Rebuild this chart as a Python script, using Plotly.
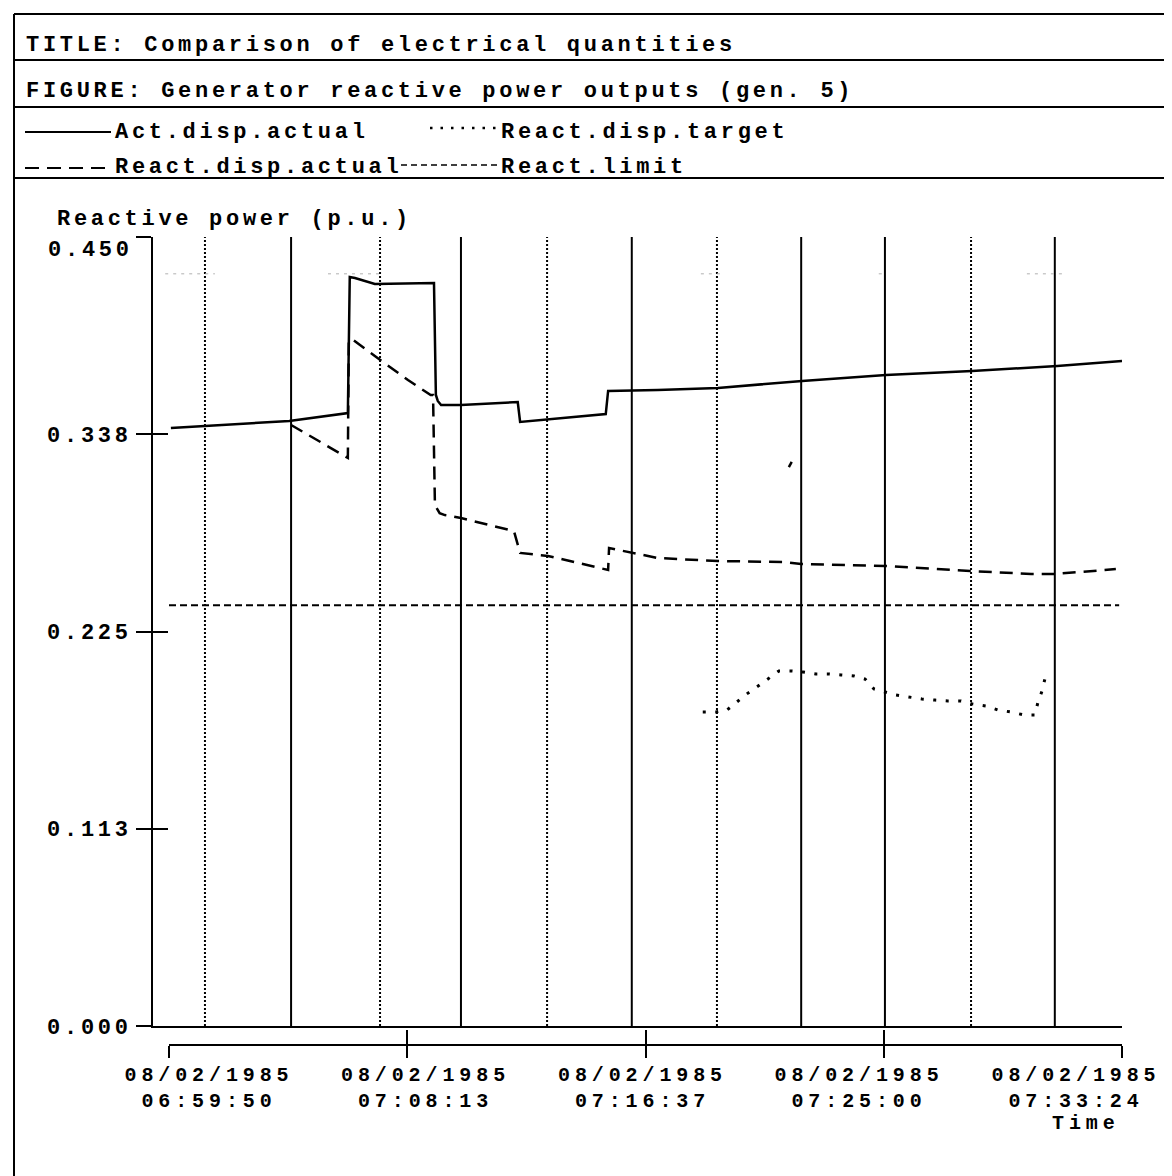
import plotly.graph_objects as go
from datetime import datetime, timedelta

W, H = 1172, 1176
D = "1985-08-02 "

# ---------------- data ----------------
act_time = ["06:59:54", "07:04:04", "07:06:08", "07:06:12", "07:06:23", "07:07:05", "07:09:10",
            "07:09:14", "07:09:18", "07:09:25", "07:10:07", "07:12:07", "07:12:12", "07:15:13",
            "07:15:18", "07:17:03", "07:19:10", "07:22:08", "07:25:05", "07:28:07", "07:31:07",
            "07:33:24"]
act_val = [0.3411, 0.3451, 0.3496, 0.4272, 0.4266, 0.4232, 0.4238,
           0.3599, 0.3565, 0.3542, 0.3542, 0.3559, 0.3445, 0.3490,
           0.3622, 0.3627, 0.3639, 0.3679, 0.3713, 0.3736, 0.3764,
           0.3793]

ract_time = ["07:04:08", "07:06:06", "07:06:08", "07:06:10", "07:06:19", "07:07:05", "07:08:15",
             "07:09:03", "07:09:08", "07:09:12", "07:09:22", "07:09:33", "07:10:07", "07:11:59",
             "07:12:12", "07:13:11", "07:15:18", "07:15:20", "07:17:03", "07:19:10", "07:21:32",
             "07:22:06", "07:25:03", "07:28:03", "07:30:12", "07:31:02", "07:32:12", "07:33:11",
             None, "07:21:40", "07:21:46"]
ract_val = [0.3428, 0.3240, 0.3240, 0.3913, 0.3913, 0.3821, 0.3684,
            0.3599, 0.3599, 0.2971, 0.2925, 0.2914, 0.2897, 0.2823,
            0.2698, 0.2681, 0.2601, 0.2726, 0.2669, 0.2652, 0.2646,
            0.2635, 0.2624, 0.2595, 0.2578, 0.2578, 0.2595, 0.2606,
            None, 0.3188, 0.3217]

tgt_time = ["07:18:38", "07:19:06", "07:19:29", "07:19:50", "07:20:11", "07:20:35", "07:20:56",
            "07:21:19", "07:21:44", "07:22:10", "07:22:37", "07:23:05", "07:23:30", "07:23:58",
            "07:24:21", "07:24:40", "07:25:26", "07:25:56", "07:26:21", "07:26:49", "07:27:16",
            "07:27:44", "07:28:09", "07:28:37", "07:29:02", "07:29:29", "07:29:57", "07:30:20",
            "07:30:26", "07:30:35", "07:30:41"]
tgt_val = [0.1791, 0.1791, 0.1802, 0.1848, 0.1894, 0.1939, 0.1979,
           0.2025, 0.2025, 0.2019, 0.2008, 0.2008, 0.2002, 0.1996,
           0.1979, 0.1922, 0.1888, 0.1876, 0.1865, 0.1859, 0.1854,
           0.1854, 0.1836, 0.1825, 0.1802, 0.1791, 0.1774, 0.1774,
           0.1842, 0.1911, 0.1979]

limit_time = ["06:59:50", "07:33:18"]
limit_val = [0.240, 0.240]

# faint, barely printed upper limit fragments
upper_time = ["06:59:42", "07:01:27", None, "07:05:26", "07:07:15", None, "07:18:34", "07:19:19",
              None, "07:24:50", "07:25:03", None, "07:30:03", "07:31:24"]
upper_val = [0.429, 0.429, None, 0.429, 0.429, None, 0.429, 0.429,
             None, 0.429, 0.429, None, 0.429, 0.429]

grid_times = ["07:01:06", "07:04:08", "07:07:16", "07:10:07", "07:13:09", "07:16:08",
              "07:19:08", "07:22:06", "07:25:03", "07:28:05", "07:31:02"]
grid_solid = [False, True, False, True, False, True, False, True, True, False, True]

y_ticks = [0.0, 0.1125, 0.225, 0.3375, 0.45]
y_ticklabels = ["0.000", "0.113", "0.225", "0.338", "0.450"]
x_ticks = ["06:59:50", "07:08:13", "07:16:37", "07:25:00", "07:33:24"]
x_date_label = "08/02/1985"

title_text = "TITLE: Comparison of electrical quantities"
figure_text = "FIGURE: Generator reactive power outputs (gen. 5)"
legend_names = ["Act.disp.actual", "React.disp.target", "React.disp.actual", "React.limit"]
y_title = "Reactive power (p.u.)"
x_title = "Time"

# ---------------- helpers ----------------
FONT = "Liberation Mono, Courier New, monospace"
FS = 22
LS = "3.7px"
FS_X = 20
LS_X = "4.9px"


def sp(s, ls=LS):
    return f"<span style='letter-spacing:{ls}'>{s}</span>"


def t(s):
    return None if s is None else D + s


def X(px):
    return px / W


def Y(py):
    return 1 - py / H


fig = go.Figure()

# grid lines (event markers)
gs_x, gs_y, gd_x, gd_y = [], [], [], []
for tm, solid in zip(grid_times, grid_solid):
    if solid:
        gs_x += [t(tm), t(tm), None]
        gs_y += [0, 0.45, None]
    else:
        gd_x += [t(tm), t(tm), None]
        gd_y += [0, 0.45, None]
fig.add_trace(go.Scatter(x=gs_x, y=gs_y, mode="lines", line=dict(color="black", width=2),
                         hoverinfo="skip", showlegend=False))
fig.add_trace(go.Scatter(x=gd_x, y=gd_y, mode="lines",
                         line=dict(color="black", width=2, dash="2px,2px"),
                         hoverinfo="skip", showlegend=False))

fig.add_trace(go.Scatter(x=[t(v) for v in upper_time], y=upper_val, mode="lines",
                         line=dict(color="#b0b0b0", width=1, dash="3px,5px"),
                         hoverinfo="skip", showlegend=False))
fig.add_trace(go.Scatter(x=[t(v) for v in limit_time], y=limit_val, mode="lines",
                         name=legend_names[3],
                         line=dict(color="black", width=2, dash="7px,4px"), showlegend=False))
fig.add_trace(go.Scatter(x=[t(v) for v in tgt_time], y=tgt_val, mode="lines",
                         name=legend_names[1],
                         line=dict(color="black", width=3, dash="3px,9.5px"), showlegend=False))
fig.add_trace(go.Scatter(x=[t(v) for v in ract_time], y=ract_val, mode="lines",
                         name=legend_names[2], connectgaps=False,
                         line=dict(color="black", width=2.5, dash="13px,8px"), showlegend=False))
fig.add_trace(go.Scatter(x=[t(v) for v in act_time], y=act_val, mode="lines",
                         name=legend_names[0],
                         line=dict(color="black", width=2.5), showlegend=False))

# helper traces that bind auxiliary axes
for ax in ["x2", "x3", "x4"]:
    fig.add_trace(go.Scatter(x=[t(x_ticks[0])], y=[None], xaxis=ax, yaxis="y",
                             mode="lines", hoverinfo="skip", showlegend=False))
for ay in ["y2", "y3"]:
    fig.add_trace(go.Scatter(x=[t(x_ticks[0])], y=[None], xaxis="x", yaxis=ay,
                             mode="lines", hoverinfo="skip", showlegend=False))

x_left_px, x_right_px = 145, 1114
tick0_px = 161
t0 = datetime.fromisoformat(D + x_ticks[0])
t1 = datetime.fromisoformat(D + x_ticks[-1])
pps = (x_right_px - tick0_px) / (t1 - t0).total_seconds()
range_start = t0 - timedelta(seconds=(tick0_px - x_left_px) / pps)

y_top_px, y_bot_px = 229, 1018
time_axis_px = 1037
common = dict(showgrid=False, zeroline=False, automargin=False)
tickfont = dict(family=FONT, size=FS, color="black", weight="bold")
tickfont_x = dict(family=FONT, size=FS_X, color="black", weight="bold")

# main y labels (all but the top one, which sits just below its tick)
main_ytext = [sp(s) for s in y_ticklabels[:-1]] + [""]

fig.update_layout(
    template="none",
    width=W, height=H, autosize=False,
    margin=dict(l=0, r=0, t=0, b=0, pad=0),
    paper_bgcolor="white", plot_bgcolor="rgba(0,0,0,0)",
    font=dict(family=FONT, size=FS, color="black", weight="bold"),
    xaxis=dict(domain=[X(x_left_px), X(x_right_px)], type="date",
               range=[range_start.isoformat(sep=" "), t1.isoformat(sep=" ")],
               showline=True, linecolor="black", linewidth=2, ticks="", showticklabels=False,
               anchor="y", **common),
    yaxis=dict(domain=[Y(y_bot_px), Y(y_top_px)], range=[0, 0.45],
               showline=True, linecolor="black", linewidth=2,
               ticks="outside", ticklen=15, tickwidth=2, tickcolor="black",
               tickvals=y_ticks, ticktext=main_ytext,
               tickfont=tickfont, anchor="x", **common),
    yaxis2=dict(overlaying="y", range=[0, 0.45], anchor="x", side="left",
                ticks="inside", ticklen=15, tickwidth=2, tickcolor="black",
                tickvals=y_ticks, showticklabels=False, showline=False, **common),
    yaxis3=dict(overlaying="y", range=[0, 0.45], anchor="x", side="left",
                ticks="outside", ticklen=15, tickwidth=2, tickcolor="rgba(0,0,0,0)",
                tickvals=[y_ticks[-1]], ticktext=[sp(y_ticklabels[-1])],
                ticklabelshift=11,
                tickfont=tickfont, showline=False, **common),
    xaxis2=dict(domain=[X(tick0_px), X(x_right_px)], type="date",
                range=[t0.isoformat(sep=" "), t1.isoformat(sep=" ")],
                anchor="free", position=Y(time_axis_px),
                showline=True, linecolor="black", linewidth=2,
                ticks="outside", ticklen=12, tickwidth=2, tickcolor="black",
                tickvals=[t(v) for v in x_ticks], showticklabels=False, **common),
    xaxis3=dict(domain=[X(tick0_px), X(x_right_px)], type="date", overlaying="x2",
                range=[t0.isoformat(sep=" "), t1.isoformat(sep=" ")],
                anchor="free", position=Y(time_axis_px),
                ticks="inside", ticklen=15, tickwidth=2, tickcolor="black",
                tickvals=[t(v) for v in x_ticks], showticklabels=False, showline=False, **common),
    xaxis4=dict(domain=[X(201), X(1068)], type="date",
                range=[t0.isoformat(sep=" "), t1.isoformat(sep=" ")],
                anchor="free", position=Y(1052), ticks="", showline=False,
                tickvals=[t(v) for v in x_ticks],
                ticktext=[sp(x_date_label, LS_X) + "<br>" + sp(v, LS_X) for v in x_ticks],
                tickfont=tickfont_x, **common),
)

# ---------- frame and header ----------
shapes = []
line = dict(color="black", width=2)
shapes.append(dict(type="line", xref="paper", yref="paper", x0=X(6), x1=X(1170), y0=Y(6), y1=Y(6), line=line))
for yy in [52, 99, 170]:
    shapes.append(dict(type="line", xref="paper", yref="paper", x0=X(6), x1=X(1170), y0=Y(yy), y1=Y(yy), line=line))
shapes.append(dict(type="line", xref="paper", yref="paper", x0=X(6), x1=X(6), y0=Y(6), y1=Y(1176), line=line))
shapes.append(dict(type="line", xref="paper", yref="paper", x0=X(1170), x1=X(1170), y0=Y(6), y1=Y(1176), line=line))

# legend samples
leg = [
    (17, 103, 124, dict(color="black", width=2)),
    (422, 490, 120, dict(color="black", width=2.5, dash="2.5px,8px")),
    (17, 103, 160, dict(color="black", width=2, dash="14px,8px")),
    (393, 490, 157, dict(color="black", width=1.6, dash="6px,4px")),
]
for x0, x1, yy, ln in leg:
    shapes.append(dict(type="line", xref="paper", yref="paper", x0=X(x0), x1=X(x1), y0=Y(yy), y1=Y(yy), line=ln))
fig.update_layout(shapes=shapes)

ann = []


def add_text(txt, x, y, xanchor="left", size=FS, ls=LS):
    ann.append(dict(text=sp(txt, ls), x=X(x), y=Y(y), xref="paper", yref="paper",
                    xanchor=xanchor, yanchor="middle", showarrow=False,
                    font=dict(family=FONT, size=size, color="black", weight="bold")))


add_text(title_text, 16, 38)
add_text(figure_text, 16, 84)
add_text(legend_names[0], 105, 124)
add_text(legend_names[1], 491, 124)
add_text(legend_names[2], 105, 159)
add_text(legend_names[3], 491, 159)
add_text(y_title, 47, 212)
add_text(x_title, 1078, 1115, xanchor="center", size=FS_X, ls=LS_X)
fig.update_layout(annotations=ann)

fig.write_html("out.html")
